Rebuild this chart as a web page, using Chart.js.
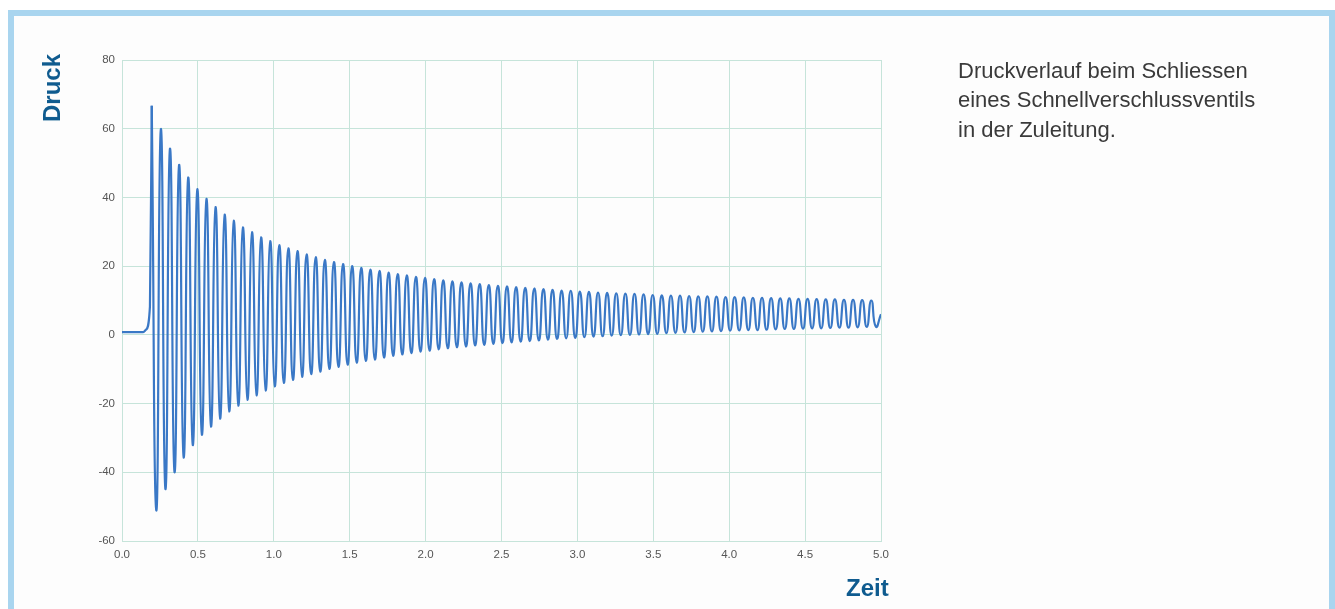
<!DOCTYPE html>
<html>
<head>
<meta charset="utf-8">
<script src="https://cdn.jsdelivr.net/npm/chart.js@4.4.1/dist/chart.umd.min.js"></script>
<style>
  html, body { margin: 0; padding: 0; background: #ffffff; width: 1335px; height: 609px; overflow: hidden; }
  #frame { position: absolute; left: 8px; top: 10px; width: 1315px; height: 620px;
           border-top: 6px solid #a9d5ef; border-left: 6px solid #a9d5ef; border-right: 6px solid #a9d5ef;
           background: #fdfdfd; }
  #c { position: absolute; left: 0; top: 0; }
  .axt { position: absolute; font-family: "Liberation Sans", Arial, sans-serif; font-weight: bold;
         color: #0f5b8f; font-size: 24px; line-height: 1; white-space: nowrap; }
  #druck { left: 52px; top: 88px; transform: translate(-50%, -50%) rotate(-90deg); }
  #zeit { left: 846px; top: 576px; }
  #desc { position: absolute; left: 958px; top: 56px; font-family: "Liberation Sans", Arial, sans-serif;
          font-size: 22px; line-height: 29.4px; color: #3a3a3a; white-space: nowrap; }
</style>
</head>
<body>
<div id="frame"></div>
<canvas id="c" width="1335" height="609"></canvas>
<div class="axt" id="druck">Druck</div>
<div class="axt" id="zeit">Zeit</div>
<div id="desc">Druckverlauf beim Schliessen<br>eines Schnellverschlussventils<br>in der Zuleitung.</div>
<script>
// ---- data ----
const xTickValues = [0, 0.5, 1, 1.5, 2, 2.5, 3, 3.5, 4, 4.5, 5];
const xTickLabels = ['0.0','0.5','1.0','1.5','2.0','2.5','3.0','3.5','4.0','4.5','5.0'];
const yTickValues = [-60, -40, -20, 0, 20, 40, 60, 80];
const yTickLabels = ['-60','-40','-20','0','20','40','60','80'];

// flat pressure before the valve closes, and the initial rise
const startTimes  = [0, 0.14, 0.158, 0.184];
const startValues = [0.8, 0.8, 1.5, 8.2];

// oscillation: time of first pressure peak and period (s)
const firstPeakTime = 0.196;
const period = 0.06;

// pressure maxima of each cycle
const peakValues = [
  66.7, 59.9, 54.2, 49.5, 45.8, 42.4, 39.6, 37.2, 35.0, 33.2,
  31.3, 29.9, 28.4, 27.3, 26.1, 25.2, 24.4, 23.4, 22.6, 21.8,
  21.2, 20.6, 20.0, 19.5, 19.0, 18.6, 18.1, 17.7, 17.3, 16.9,
  16.6, 16.2, 15.9, 15.6, 15.3, 15.0, 14.8, 14.5, 14.3, 14.1,
  13.9, 13.7, 13.5, 13.3, 13.1, 12.9, 12.8, 12.6, 12.5, 12.3,
  12.2, 12.1, 12.0, 11.9, 11.8, 11.6, 11.5, 11.4, 11.4, 11.3,
  11.2, 11.2, 11.1, 11.0, 11.0, 10.9, 10.8, 10.8, 10.7, 10.6,
  10.6, 10.5, 10.5, 10.4, 10.3, 10.3, 10.2, 10.2, 10.1, 10.0
];
// pressure minima of each cycle
const troughValues = [
  -51.1, -44.9, -40.0, -35.7, -32.1, -29.1, -26.7, -24.4, -22.3, -20.6,
  -18.9, -17.6, -16.2, -15.0, -14.0, -13.1, -12.2, -11.4, -10.7, -9.9,
  -9.3, -8.7, -8.1, -7.6, -7.2, -6.6, -6.1, -5.7, -5.3, -4.9,
  -4.6, -4.2, -3.9, -3.6, -3.4, -3.1, -2.9, -2.6, -2.4, -2.2,
  -2.0, -1.8, -1.6, -1.4, -1.2, -1.0, -0.9, -0.7, -0.5, -0.4,
  -0.2, -0.1, 0.0, 0.1, 0.2, 0.3, 0.5, 0.6, 0.7, 0.8,
  0.9, 1.0, 1.1, 1.2, 1.3, 1.4, 1.4, 1.5, 1.6, 1.7,
  1.7, 1.8, 1.9, 1.9, 2.0, 2.1, 2.1, 2.2, 2.3, 2.4
];
const endTime = 5.0;
const endValue = 6.0;

// ---- build the point lists ----
// lead-in: flat line and rise up to the first peak (drawn monotone, no overshoot)
const leadIn = [];
startTimes.forEach((t, i) => leadIn.push({ x: t, y: startValues[i] }));
leadIn.push({ x: firstPeakTime, y: peakValues[0] });

// oscillation from the first peak on
const osc = [];
peakValues.forEach((p, i) => {
  const t = firstPeakTime + i * period;
  osc.push({ x: t, y: p });
  osc.push({ x: t + period / 2, y: troughValues[i] });
});
osc.push({ x: endTime, y: endValue });

const lineColor = '#3a78c6';
const gridColor = '#c6e4da';
const tickFont = { family: '"Liberation Sans", Arial, sans-serif', size: 11.5 };

new Chart(document.getElementById('c'), {
  type: 'line',
  data: {
    datasets: [{
      data: leadIn,
      borderColor: lineColor,
      borderWidth: 2.2,
      pointRadius: 0,
      fill: false,
      cubicInterpolationMode: 'monotone'
    }, {
      data: osc,
      borderColor: lineColor,
      borderWidth: 2.2,
      pointRadius: 0,
      fill: false,
      tension: 0.6
    }]
  },
  options: {
    responsive: false,
    animation: false,
    devicePixelRatio: 1,
    layout: { padding: { top: 60, right: 454, bottom: 0, left: 0 } },
    plugins: { legend: { display: false }, tooltip: { enabled: false } },
    scales: {
      x: {
        type: 'linear', min: 0, max: 5,
        afterFit: s => { s.height = 68; },
        afterBuildTicks: s => { s.ticks = xTickValues.map(v => ({ value: v })); },
        ticks: { color: '#555', font: tickFont, padding: 7, maxRotation: 0,
                 callback: (v, i) => xTickLabels[i] },
        grid: { color: gridColor, drawTicks: false, lineWidth: 1 },
        border: { color: gridColor }
      },
      y: {
        type: 'linear', min: -60, max: 80,
        afterFit: s => { s.width = 122; },
        afterBuildTicks: s => { s.ticks = yTickValues.map(v => ({ value: v })); },
        ticks: { color: '#555', font: tickFont, padding: 7,
                 callback: (v, i) => yTickLabels[i] },
        grid: { color: gridColor, drawTicks: false, lineWidth: 1 },
        border: { color: gridColor }
      }
    }
  }
});
</script>
</body>
</html>
